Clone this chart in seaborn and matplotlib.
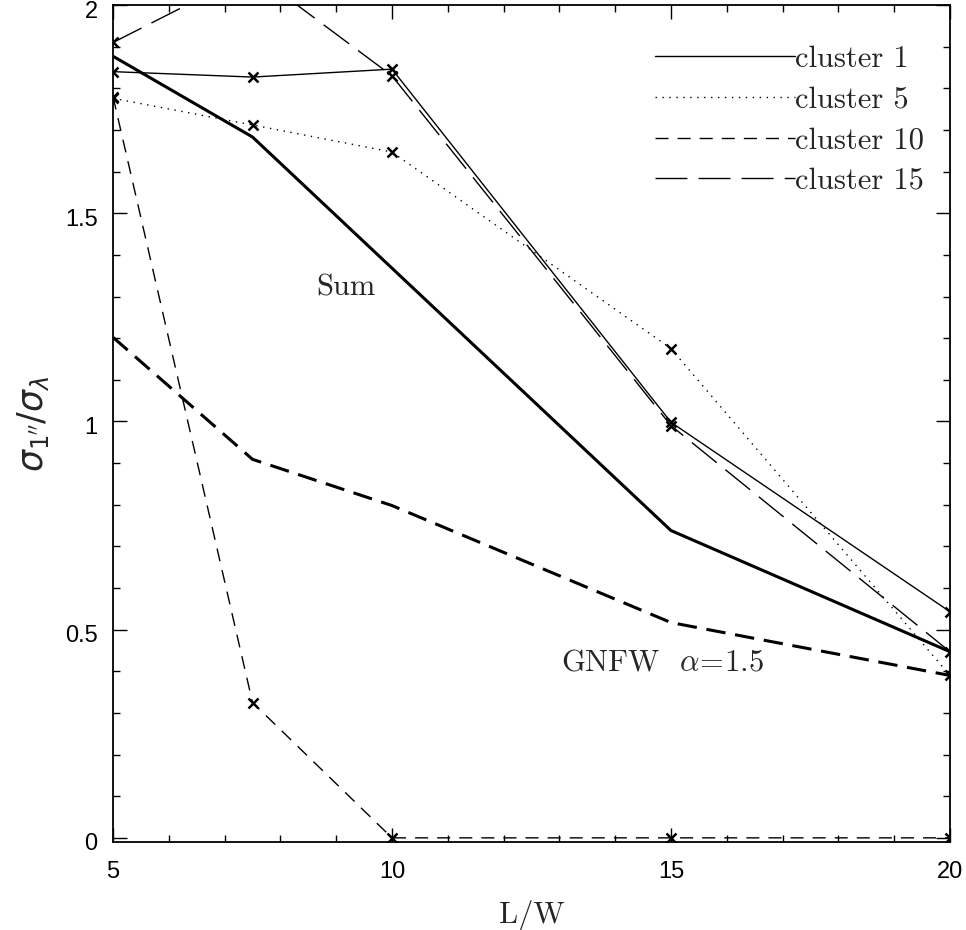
import numpy as np
import pandas as pd
import matplotlib
matplotlib.use("Agg")
import matplotlib.pyplot as plt
import matplotlib.transforms as mtransforms
from matplotlib.lines import Line2D
from matplotlib.ticker import MultipleLocator, FuncFormatter
import seaborn as sns

# values
lw_ratio = [5, 7.5, 10, 15, 20]
cluster1 = [1.84, 1.827, 1.846, 0.998, 0.543]
cluster5 = [1.776, 1.712, 1.647, 1.175, 0.39]
cluster10 = [1.78, 0.325, 0.0, 0.0, 0.0]
cluster15 = [1.91, 2.08, 1.83, 0.99, 0.447]
sum_curve = [1.877, 1.683, 1.368, 0.738, 0.447]
gnfw_curve = [1.202, 0.909, 0.798, 0.517, 0.39]

serif = "cmr10"
sns.set_style("ticks")
plt.rcParams["mathtext.fontset"] = "cm"
plt.rcParams["lines.scale_dashes"] = False
plt.rcParams["font.family"] = ["Liberation Sans", "DejaVu Sans"]

fig = plt.figure(figsize=(9.66, 9.3), dpi=100)
ax = fig.add_axes([0.117, 0.0946, 0.8664, 0.9])

# cluster curves: thin lines with x markers
styles = {
    "cluster 1": (cluster1, "-"),
    "cluster 5": (cluster5, (0, (1, 4))),
    "cluster 10": (cluster10, (0, (9.4, 6.5))),
    "cluster 15": (cluster15, (0, (23, 8))),
}

for name, (vals, ls) in styles.items():
    df = pd.DataFrame({"x": lw_ratio, "y": vals})
    sns.lineplot(data=df, x="x", y="y", ax=ax, color="black", linestyle=ls,
                 linewidth=1.0, marker="x", markersize=7,
                 markeredgewidth=1.8, markeredgecolor="black", label="_nolegend_")

# model curves: thick lines
df_sum = pd.DataFrame({"x": lw_ratio, "y": sum_curve})
sns.lineplot(data=df_sum, x="x", y="y", ax=ax, color="black", linewidth=2.2,
             label="_nolegend_")
df_gnfw = pd.DataFrame({"x": lw_ratio, "y": gnfw_curve})
sns.lineplot(data=df_gnfw, x="x", y="y", ax=ax, color="black", linewidth=2.2,
             linestyle=(0, (14, 7)), label="_nolegend_")

ax.text(9.17, 1.32, "Sum", fontfamily=serif, fontsize=22, ha="center", va="center")
ax.text(14.85, 0.42, r"GNFW  $\alpha\!=\!1.5$", fontfamily=serif, fontsize=22,
        ha="center", va="center")

leg_handles = [Line2D([], [], color="black", linestyle=ls, linewidth=1.0)
               for _, ls in styles.values()]
ax.legend(leg_handles, list(styles.keys()), loc="upper right",
          bbox_to_anchor=(0.984, 0.966), frameon=False, handlelength=4.6,
          handletextpad=0.0, labelspacing=0.43, borderaxespad=0,
          prop={"family": serif, "size": 22})

ax.set_xlim(5, 20)
ax.set_ylim(-0.01, 2.0)
ax.xaxis.set_major_locator(MultipleLocator(5))
ax.xaxis.set_minor_locator(MultipleLocator(1))
ax.yaxis.set_major_locator(MultipleLocator(0.5))
ax.yaxis.set_minor_locator(MultipleLocator(0.1))
ax.yaxis.set_major_formatter(FuncFormatter(lambda v, p: f"{v:g}"))
ax.xaxis.set_major_formatter(FuncFormatter(lambda v, p: f"{v:g}"))
ax.tick_params(which="both", direction="in", top=True, right=True, width=1.0, colors="black")
ax.tick_params(which="major", length=10, labelsize=17)
ax.tick_params(which="minor", length=5)
ax.tick_params(axis="x", which="major", pad=14)
ax.tick_params(axis="y", which="major", pad=11)
for sp in ax.spines.values():
    sp.set_linewidth(1.3)
    sp.set_color("black")

# y tick labels sit a few pixels below their ticks
offset = mtransforms.ScaledTranslation(0, -4 / 100, fig.dpi_scale_trans)
for lab in ax.get_yticklabels():
    lab.set_transform(lab.get_transform() + offset)

ax.set_xlabel("L/W", fontfamily=serif, fontsize=22, labelpad=12)
ax.set_ylabel(r"$\sigma_{1^{\prime\prime}}/\sigma_\lambda$", fontsize=25, labelpad=10,
              math_fontfamily="dejavusans")

fig.savefig("out.png", dpi=100)
